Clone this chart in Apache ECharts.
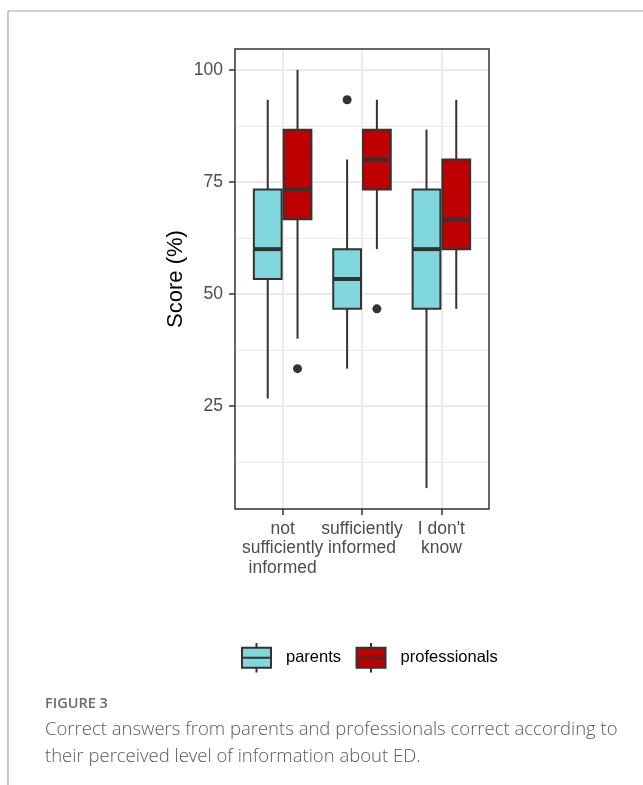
<!DOCTYPE html>
<html><head><meta charset="utf-8">
<script src="https://cdn.jsdelivr.net/npm/echarts@6/dist/echarts.min.js"></script>
<style>html,body{margin:0;padding:0;background:#fff}#chart{width:643px;height:785px}</style>
</head><body><div id="chart"></div>
<script>
// ---- data ----
const categories = ['not\nsufficiently\ninformed', 'sufficiently\ninformed', "I don't\nknow"];
const groupNames = ['parents', 'professionals'];
// [min, Q1, median, Q3, max]
const parentsStats = [
  [26.67, 53.33, 60.00, 73.33, 93.33],
  [33.33, 46.67, 53.33, 60.00, 80.00],
  [6.67, 46.67, 60.00, 73.33, 86.67]
];
const professionalsStats = [
  [40.00, 66.67, 73.33, 86.67, 100.00],
  [60.00, 73.33, 80.00, 86.67, 93.33],
  [46.67, 60.00, 66.67, 80.00, 93.33]
];
// [category index, value]
const parentsOutliers = [[1, 93.33]];
const professionalsOutliers = [[0, 33.33], [1, 46.67]];
const yTicks = [25, 50, 75, 100];
const yMinorTicks = [12.5, 37.5, 62.5, 87.5];
const groupColors = ['#80D8DE', '#BE0000'];

// ---- layout helpers ----
const dodge = 0.1875, boxW = 0.35;
const LINE = '#333333';
const FONT = '"Liberation Sans", Arial, sans-serif';

function boxData(stats) { return stats.map((s, i) => [i + 1].concat(s)); }
function outlierData(list, off) { return list.map(o => [o[0] + 1 + off, o[1]]); }

function makeRender(off, fill) {
  return function (params, api) {
    const x = api.value(0) + off;
    const pMin = api.coord([x, api.value(1)]);
    const pQ1 = api.coord([x, api.value(2)]);
    const pMed = api.coord([x, api.value(3)]);
    const pQ3 = api.coord([x, api.value(4)]);
    const pMax = api.coord([x, api.value(5)]);
    const half = api.size([boxW, 0])[0] / 2;
    const cx = pMed[0];
    return {
      type: 'group',
      children: [
        { type: 'line', shape: { x1: cx, y1: pMax[1], x2: cx, y2: pQ3[1] }, style: { stroke: LINE, lineWidth: 2 } },
        { type: 'line', shape: { x1: cx, y1: pQ1[1], x2: cx, y2: pMin[1] }, style: { stroke: LINE, lineWidth: 2 } },
        { type: 'rect', shape: { x: cx - half, y: pQ3[1], width: half * 2, height: pQ1[1] - pQ3[1] },
          style: { fill: fill, stroke: LINE, lineWidth: 2 } },
        { type: 'line', shape: { x1: cx - half, y1: pMed[1], x2: cx + half, y2: pMed[1] }, style: { stroke: LINE, lineWidth: 4 } }
      ]
    };
  };
}

// one x axis per category so that the touching multi-line labels are all kept
const xAxes = categories.map((c, i) => ({
  type: 'value', min: 0.4, max: 3.6, position: 'bottom', offset: 0,
  axisLine: { show: false },
  axisTick: { show: true, length: 6, lineStyle: { color: LINE, width: 1.5 }, customValues: [i + 1] },
  axisLabel: { customValues: [i + 1], formatter: () => c, showMinLabel: true, showMaxLabel: true,
    color: '#4d4d4d', fontSize: 17.5, lineHeight: 19.5, fontFamily: FONT, margin: 10 },
  splitLine: { show: true, lineStyle: { color: '#ebebeb', width: 2 } }
}));

const legendIcon = 'path://M0,4.7 L29,4.7 L29,24.7 L0,24.7 Z M0,14.7 L29,14.7 M14.5,0 L14.5,4.7 M14.5,24.7 L14.5,29.4';

const chart = echarts.init(document.getElementById('chart'), null, { renderer: 'canvas' });
chart.setOption({
  animation: false,
  backgroundColor: '#ffffff',
  grid: { left: 235, top: 49, width: 254, height: 460, show: true, borderColor: LINE, borderWidth: 1.5, backgroundColor: 'transparent', z: 3 },
  xAxis: xAxes,
  yAxis: [{
    type: 'value', min: 2.0, max: 104.667,
    name: 'Score (%)', nameLocation: 'middle', nameGap: 48,
    nameTextStyle: { fontSize: 22, color: '#000', fontFamily: FONT },
    axisLine: { show: false },
    axisTick: { show: true, length: 6, lineStyle: { color: LINE, width: 1.5 }, customValues: yTicks },
    axisLabel: { customValues: yTicks, showMinLabel: true, showMaxLabel: true,
      color: '#4d4d4d', fontSize: 17.5, fontFamily: FONT, margin: 12 },
    splitLine: { show: true, lineStyle: { color: '#ebebeb', width: 2 } }
  }, {
    type: 'value', min: 2.0, max: 104.667, position: 'left',
    axisLine: { show: false }, axisLabel: { show: false },
    axisTick: { show: false, customValues: yMinorTicks },
    splitLine: { show: true, lineStyle: { color: '#ebebeb', width: 1 } }
  }],
  legend: {
    left: 241, top: 642, orient: 'horizontal', itemGap: 14.5, padding: 0,
    itemWidth: 29, itemHeight: 29.4,
    textStyle: { fontSize: 16.5, color: '#000', fontFamily: FONT, padding: [0, 0, 0, 10] },
    data: groupNames.map((n, i) => ({ name: n, icon: legendIcon,
      itemStyle: { color: groupColors[i], borderColor: LINE, borderWidth: 2 } }))
  },
  series: [
    { name: groupNames[0], type: 'custom', data: boxData(parentsStats), encode: { x: 0, y: [1, 2, 3, 4, 5] },
      renderItem: makeRender(-dodge, groupColors[0]), itemStyle: { color: groupColors[0] }, z: 2 },
    { name: groupNames[1], type: 'custom', data: boxData(professionalsStats), encode: { x: 0, y: [1, 2, 3, 4, 5] },
      renderItem: makeRender(dodge, groupColors[1]), itemStyle: { color: groupColors[1] }, z: 2 },
    { name: groupNames[0], type: 'scatter', data: outlierData(parentsOutliers, -dodge), symbolSize: 9,
      itemStyle: { color: LINE, opacity: 1 }, z: 2 },
    { name: groupNames[1], type: 'scatter', data: outlierData(professionalsOutliers, dodge), symbolSize: 9,
      itemStyle: { color: LINE, opacity: 1 }, z: 2 }
  ],
  graphic: [
    { type: 'line', shape: { x1: 8, y1: 11, x2: 643, y2: 11 }, style: { stroke: '#a6a6a6', lineWidth: 1.2 } },
    { type: 'line', shape: { x1: 8, y1: 11, x2: 8, y2: 785 }, style: { stroke: '#a6a6a6', lineWidth: 1.2 } },
    { type: 'text', x: 45, y: 703.5, style: { text: 'FIGURE 3', fill: '#6b6b6b', font: '600 14.5px "Open Sans", sans-serif', verticalAlign: 'middle' } },
    { type: 'text', x: 45, y: 730, style: { text: 'Correct answers from parents and professionals correct according to', fill: '#5a5a5a', font: '300 18.5px "Open Sans", sans-serif', verticalAlign: 'middle' } },
    { type: 'text', x: 45, y: 756.5, style: { text: 'their perceived level of information about ED.', fill: '#5a5a5a', font: '300 18.5px "Open Sans", sans-serif', verticalAlign: 'middle' } }
  ]
});
</script></body></html>
